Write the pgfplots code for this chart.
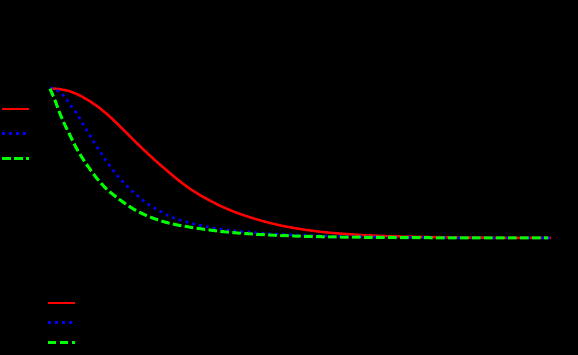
\documentclass[border=0pt]{standalone}
\usepackage{pgfplots}
\pgfplotsset{compat=1.18}
\begin{document}
\begin{tikzpicture}[x=1pt,y=1pt]
\fill[black] (0,0) rectangle (578,355);
\pgfplotsset{
  redline/.style={red, line width=2.5pt},
  blueline/.style={blue, line width=2.6pt, dash pattern=on 2.6pt off 4.4pt},
  greenline/.style={green, line width=3pt, dash pattern=on 8.5pt off 3.5pt},
  mylegend/.style={
    legend cell align=left,
    legend image code/.code={\draw[##1] (0pt,0pt) -- (27pt,0pt);},
    legend style={fill=none, draw=none, inner sep=0pt, outer sep=0pt,
      nodes={inner sep=0pt, text=black, font=\footnotesize}},
  },
}
\begin{axis}[
  at={(50pt,117pt)}, anchor=south west,
  scale only axis, width=500pt, height=150pt,
  xmin=50, xmax=550, ymin=0, ymax=1,
  clip=false,
  axis line style={black}, tick style={black},
  ticklabel style={text=black},
  mylegend,
  legend style={at={(axis description cs:-0.098,0.883)}, anchor=north west, row sep=17.5pt},
]
\addplot[redline, smooth, tension=0.4] coordinates {
(51,0.998) (58.3,0.993) (68.3,0.981) (78.3,0.955) (88.3,0.918) (98.3,0.873)
(108.3,0.818) (118.3,0.755) (128.3,0.689) (138.3,0.623) (148.3,0.559) (160,0.489)
(170,0.432) (180,0.377) (190,0.328) (200,0.286) (210,0.249) (220,0.215)
(230,0.186) (240,0.16) (250,0.138) (260,0.118) (270,0.1) (283,0.08)
(300,0.06) (316,0.045) (333,0.033) (350,0.025) (366.7,0.018) (400,0.01) (450,0.004) (500,0.001) (551,0.0)};
\addplot[blueline, smooth, tension=0.4] coordinates {
(50,1.0) (55,0.991) (60.7,0.969) (65.7,0.933) (69.3,0.897) (73.3,0.862) (77.3,0.825)
(81.3,0.778) (85.3,0.733) (89,0.693) (92.3,0.656) (96,0.616) (100.3,0.573)
(104.3,0.533) (108.3,0.495) (112.3,0.458) (116.3,0.424) (121.3,0.387) (126,0.354)
(131.3,0.318) (136.3,0.288) (141.3,0.26) (146.3,0.233) (152.3,0.208)
(157.3,0.189) (163.3,0.166) (169.3,0.146) (175.3,0.13) (181.7,0.116) (194.3,0.093)
(206.7,0.075) (220,0.06) (240,0.044) (266,0.03) (300,0.019) (333,0.012) (400,0.005)
(450,0.002) (550,0.0)};
\addplot[greenline, smooth, tension=0.4] coordinates {
(50,0.995) (55,0.918) (59.3,0.84) (64.3,0.762) (70,0.685) (76,0.604) (82.7,0.529)
(91,0.449) (97.7,0.391) (106.7,0.325) (116.7,0.271) (125.7,0.227) (135,0.187)
(146,0.151) (156,0.125) (166.7,0.103) (177.3,0.087) (188.3,0.074) (200,0.062)
(210,0.053) (221.7,0.043) (240,0.032) (266,0.021) (300,0.012) (333,0.007)
(400,0.003) (450,0.001) (548,0.0)};
\legend{Model A, Model B, Model C}
\end{axis}
\begin{axis}[
  at={(50pt,117pt)}, anchor=south west,
  scale only axis, width=500pt, height=150pt,
  xmin=50, xmax=550, ymin=0, ymax=1,
  hide axis,
  mylegend,
  legend style={at={(axis description cs:-0.007,-0.41)}, anchor=north west, row sep=12.5pt},
]
\addlegendimage{redline}
\addlegendentry{Case 1}
\addlegendimage{blueline}
\addlegendentry{Case 2}
\addlegendimage{greenline}
\addlegendentry{Case 3}
\end{axis}
\pgfresetboundingbox
\path[use as bounding box] (0,0) rectangle (578,355);
\end{tikzpicture}
\end{document}
